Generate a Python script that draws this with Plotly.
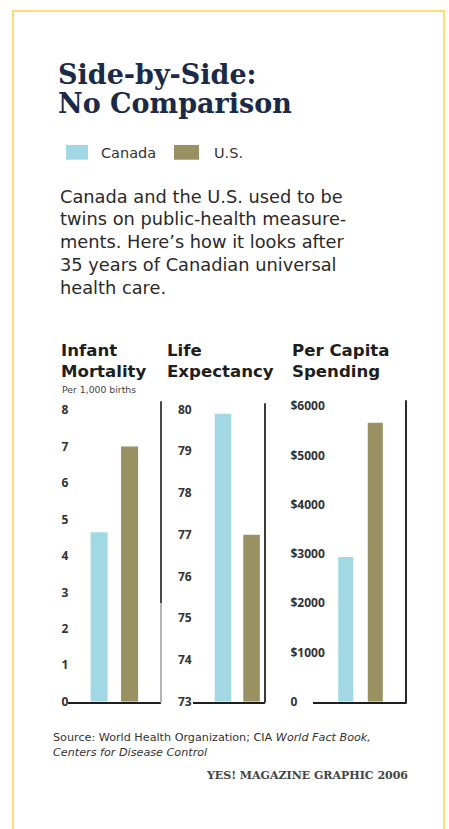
import plotly.graph_objects as go

# ---------------- data ----------------
countries = ["Canada", "U.S."]
infant_mortality = [4.65, 7.0]        # per 1,000 births
life_expectancy = [79.9, 77.0]        # years
per_capita_spending = [2940, 5660]    # US$

im_ticks = [0, 1, 2, 3, 4, 5, 6, 7, 8]
le_ticks = [73, 74, 75, 76, 77, 78, 79, 80]
ps_ticks = [0, 1000, 2000, 3000, 4000, 5000, 6000]
ps_ticktext = ["0", "$1000", "$2000", "$3000", "$4000", "$5000", "$6000"]

# ---------------- style ----------------
W, H = 449, 829
CAN = "#A2D8E4"
USA = "#9A9163"
NAVY = "#1B2A47"
SANS = "DejaVu Sans"
colors = [CAN, USA]


def px(x):
    return x / W


def py(y):
    return 1 - y / H


fig = go.Figure()

panels = [
    dict(vals=infant_mortality, base=0, xdom=(68, 161), xr=[-1.02, 2.03], w=0.56,
         yr=[0, 8.24], ticks=im_ticks, ttext=[str(t) for t in im_ticks], lab=60.5),
    dict(vals=life_expectancy, base=73, xdom=(193, 265), xr=[-1.05, 1.47], w=0.58,
         yr=[73, 80.2], ticks=le_ticks, ttext=[str(t) for t in le_ticks], lab=177),
    dict(vals=per_capita_spending, base=0, xdom=(313, 406), xr=[-1.11, 2.04], w=0.51,
         yr=[0, 6100], ticks=ps_ticks, ttext=ps_ticktext, lab=289.5),
]

ydom = [py(708), py(403)]

for i, p in enumerate(panels):
    n = "" if i == 0 else str(i + 1)
    fig.add_trace(go.Bar(
        x=countries, y=[v - p["base"] for v in p["vals"]], base=p["base"],
        marker=dict(color=colors, line=dict(width=0)),
        width=p["w"], xaxis="x" + n, yaxis="y" + n, showlegend=False,
        hoverinfo="skip",
    ))
    fig.layout["xaxis" + n] = dict(
        domain=[px(p["xdom"][0]), px(p["xdom"][1])], range=p["xr"],
        type="category", anchor="y" + n, showticklabels=False, showgrid=False,
        zeroline=False, showline=True, linecolor="#1E1E1E", linewidth=2,
        layer="below traces", fixedrange=True,
    )
    fig.layout["yaxis" + n] = dict(
        domain=ydom, range=p["yr"], anchor="free", position=px(p["lab"]), side="right",
        tickvals=p["ticks"], ticktext=p["ttext"], showgrid=False, zeroline=False,
        showline=False, ticks="",
        tickfont=dict(family="Open Sans", size=12, color="#333333", weight=700),
        fixedrange=True,
    )

# vertical rules at right of each panel
fig.add_shape(type="line", xref="paper", yref="paper", x0=px(161), x1=px(161),
              y0=py(403), y1=py(608), line=dict(color="#4A4A4A", width=2))
fig.add_shape(type="line", xref="paper", yref="paper", x0=px(161), x1=px(161),
              y0=py(608), y1=py(709), line=dict(color="#B4B4B4", width=2))
fig.add_shape(type="line", xref="paper", yref="paper", x0=px(265), x1=px(265),
              y0=py(405), y1=py(709), line=dict(color="#3A3A3A", width=2))
fig.add_shape(type="line", xref="paper", yref="paper", x0=px(406), x1=px(406),
              y0=py(402), y1=py(710), line=dict(color="#2A2A2A", width=2))

# yellow frame
fig.add_shape(type="rect", xref="paper", yref="paper", x0=px(13), x1=px(444),
              y0=py(860), y1=py(7), line=dict(color="#FFDE7A", width=2), layer="below")

# legend swatches
fig.add_shape(type="rect", xref="paper", yref="paper", x0=px(66), x1=px(88),
              y0=py(158), y1=py(143), fillcolor=CAN, line=dict(width=0))
fig.add_shape(type="rect", xref="paper", yref="paper", x0=px(174), x1=px(199),
              y0=py(158), y1=py(143), fillcolor=USA, line=dict(width=0))


def ann(text, x, y, size, color="#2A2A2A", family=SANS, weight=400, xanchor="left", yanchor="middle"):
    fig.add_annotation(text=text, x=px(x), y=py(y), xref="paper", yref="paper",
                       showarrow=False, xanchor=xanchor, yanchor=yanchor, align="left",
                       font=dict(family=family, size=size, color=color, weight=weight))


ann("Side-by-Side:", 56, 72, 27, NAVY, "DejaVu Serif", 700)
ann("No Comparison", 56, 101, 27, NAVY, "DejaVu Serif", 700)
ann(countries[0], 99, 151, 14.5, "#333333")
ann(countries[1], 212, 151, 14.5, "#333333")

body = ["Canada and the U.S. used to be", "twins on public-health measure-",
        "ments. Here’s how it looks after", "35 years of Canadian universal", "health care."]
for k, line in enumerate(body):
    ann(line, 58, 195 + k * 23.1, 17.8, "#2A2A2A")

ann("Infant", 59, 352, 16.6, "#1E1E1E", weight=700)
ann("Mortality", 59, 373, 16.6, "#1E1E1E", weight=700)
ann("Per 1,000 births", 60, 391, 9.3, "#444444")
ann("Life", 165, 352, 16.6, "#1E1E1E", weight=700)
ann("Expectancy", 165, 373, 16.6, "#1E1E1E", weight=700)
ann("Per Capita", 290, 352, 16.6, "#1E1E1E", weight=700)
ann("Spending", 290, 373, 16.6, "#1E1E1E", weight=700)

ann("Source: World Health Organization; CIA <i>World Fact Book,</i><br><i>Centers for Disease Control</i>",
    51, 752, 11.2, "#333333")
ann("YES! MAGAZINE GRAPHIC 2006", 410, 783, 11, "#444444", "DejaVu Serif", 700, xanchor="right")

fig.update_layout(
    width=W, height=H, autosize=False,
    margin=dict(l=0, r=0, t=0, b=0),
    paper_bgcolor="white", plot_bgcolor="rgba(0,0,0,0)",
    barmode="overlay", showlegend=False,
)

fig.write_html("out.html", config={"displayModeBar": False})
